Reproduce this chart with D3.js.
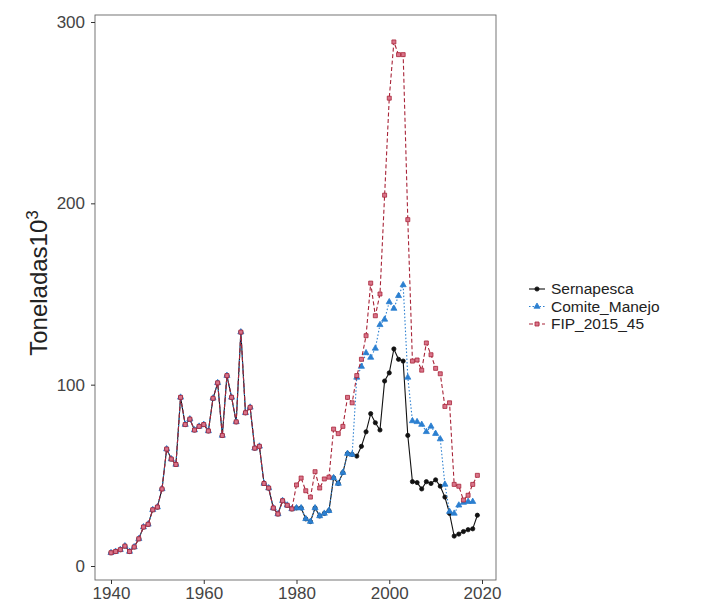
<!DOCTYPE html>
<html><head><meta charset="utf-8">
<script src="https://cdn.jsdelivr.net/npm/d3@7"></script>
<style>body{margin:0;background:#fff}svg{display:block}</style>
</head><body>
<svg id="c" width="708" height="607"></svg>
<script>
const years = d3.range(1940, 2020);
const common = [7.3,8,9,11,8,10.5,15,21.5,23,31,32.5,42.5,64.5,59,56,93,78,81,75,77,78,74.5,92.5,101,72,105,93,79.5,129,84.5,87.5,65,66,45.5,43,32,28.7,36,33.5,31.5];
const sernapescaTail = [32,32,26,24.5,32,27.6,29,30.5,48.6,45.5,51.5,62,61.5,60.6,66,74,84,79,75,102,106.5,119.7,114,113,72,46.5,46,42.5,46.5,45.5,47.5,44,38,29,16.5,17.6,19,20,20.5,28];
const comiteTail = [32,32,26,24.5,32,27.6,29,30.5,48.6,45.5,51.5,62,61.5,104,110,117.5,115,120,133,136,145.6,142,149,155,104,80,79.5,78,74,77,73,70,45,30,29,33.5,35,35.5,35.5];
const fipTail = [44.7,48.5,41.5,38,52,43,48,49,75.5,73,77,93,90,105,114,127,156,138,150,204.5,258,289,282,282,191,113,113.6,108,123,116.5,109,106,88,90,45,44,36.4,39,45,50];
const seriesNames = ["Sernapesca","Comite_Manejo","FIP_2015_45"];
const seriesValues = [common.concat(sernapescaTail), common.concat(comiteTail), common.concat(fipTail)];
const xTicks = [1940,1960,1980,2000,2020];
const yTicks = [0,100,200,300];

const styles = [
  {color:"#111111", dash:null, shape:d3.symbolCircle, size:14, fill:"#111111"},
  {color:"#2b7fd0", dash:"1.5,2", shape:d3.symbolTriangle, size:16, fill:"#2b7fd0"},
  {color:"#a82438", dash:"4,2.5", shape:d3.symbolSquare, size:16, fill:"#d9748a"}
];

const svg = d3.select("#c");
const x = d3.scaleLinear().domain([1940,2020]).range([111,482]);
const y = d3.scaleLinear().domain([0,300]).range([566,22]);
const pL=95, pR=496, pT=15, pB=580;

svg.append("rect").attr("x",pL).attr("y",pT).attr("width",pR-pL).attr("height",pB-pT)
  .attr("fill","none").attr("stroke","#666").attr("stroke-width",0.9);

const font = "'Liberation Sans', Arial, Helvetica, sans-serif";
const xa = svg.append("g").attr("transform",`translate(0,${pB})`)
  .call(d3.axisBottom(x).tickValues(xTicks).tickFormat(d3.format("d")).tickSize(4).tickPadding(3));
const ya = svg.append("g").attr("transform",`translate(${pL},0)`)
  .call(d3.axisLeft(y).tickValues(yTicks).tickSize(4).tickPadding(6));
[xa,ya].forEach(a=>{
  a.select(".domain").remove();
  a.selectAll(".tick line").attr("stroke","#333");
  a.selectAll("text").attr("fill","#444").style("font-family",font).style("font-size","17px");
});

const line = d3.line().x((d,i)=>x(years[i])).y(d=>y(d));
seriesValues.forEach((vals,k)=>{
  const s = styles[k];
  const g = svg.append("g");
  g.append("path").datum(vals).attr("d",line).attr("fill","none")
    .attr("stroke",s.color).attr("stroke-width",1.1).attr("stroke-dasharray",s.dash);
  g.selectAll("path.pt").data(vals).join("path").attr("class","pt")
    .attr("transform",(d,i)=>`translate(${x(years[i])},${y(d)})`)
    .attr("d",d3.symbol().type(s.shape).size(s.size))
    .attr("fill",s.fill).attr("stroke",s.color).attr("stroke-width",0.8);
});

svg.append("text").attr("transform","translate(47,283) rotate(-90)")
  .attr("text-anchor","middle").attr("fill","#222")
  .style("font-family",font).style("font-size","24px")
  .html('Toneladas10<tspan dy="-9" font-size="17px">3</tspan>');

const lg = svg.append("g");
seriesNames.forEach((n,k)=>{
  const s = styles[k];
  const yy = 289 + k*17.5;
  lg.append("line").attr("x1",529).attr("x2",545).attr("y1",yy).attr("y2",yy)
    .attr("stroke",s.color).attr("stroke-width",1.1).attr("stroke-dasharray",s.dash);
  lg.append("path").attr("transform",`translate(537,${yy})`)
    .attr("d",d3.symbol().type(s.shape).size(s.size)).attr("fill",s.fill).attr("stroke",s.color).attr("stroke-width",0.8);
  lg.append("text").attr("x",551).attr("y",yy).attr("dy","0.35em").attr("fill","#222")
    .style("font-family",font).style("font-size","15.5px").text(n);
});
</script>
</body></html>
